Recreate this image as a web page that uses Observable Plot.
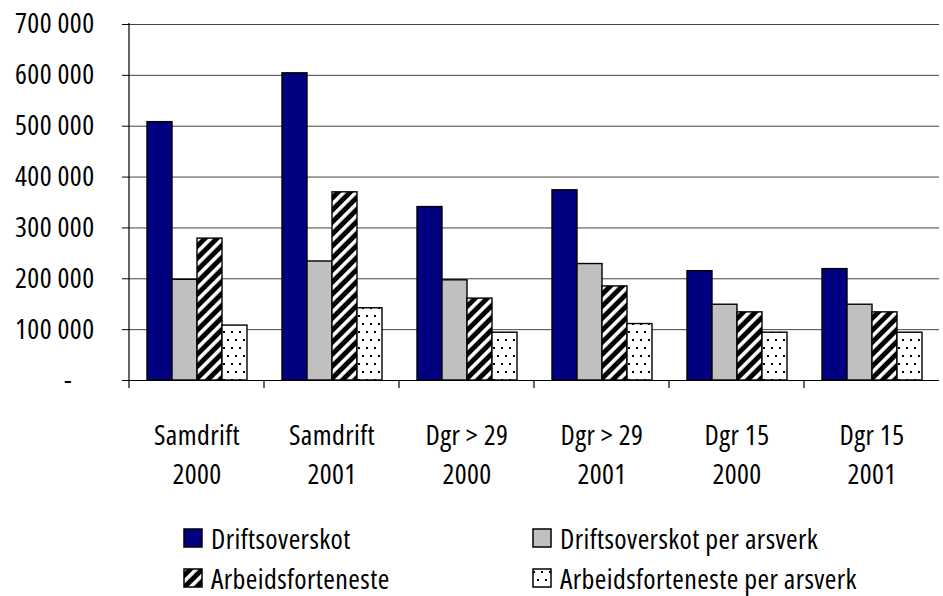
<!DOCTYPE html>
<html>
<head>
<meta charset="utf-8">
<script src="https://cdn.jsdelivr.net/npm/d3@7"></script>
<script src="https://cdn.jsdelivr.net/npm/@observablehq/plot@0.6"></script>
<style>
  html, body { margin: 0; padding: 0; background: #fff; }
  body { width: 943px; height: 596px; overflow: hidden; font-family: "Open Sans", sans-serif; font-stretch: 78%; letter-spacing: 0.4px; }
  #chart svg { display: block; font-stretch: 78%; letter-spacing: 0.4px; }
  #legend { position: relative; margin-top: 18px; margin-left: 183px; display: grid; grid-template-columns: 349px 349px; grid-auto-rows: 40px; font-size: 28px; line-height: 1; color: #000; }
  .item { display: flex; align-items: center; gap: 8px; white-space: nowrap; height: 40px; }
  .item span { line-height: 28px; }
  .item svg { display: block; flex: none; }
</style>
</head>
<body>
<div id="chart"></div>
<div id="legend"></div>
<script>
// ---- data ----
const categories = ["Samdrift\n2000", "Samdrift\n2001", "Dgr > 29\n2000", "Dgr > 29\n2001", "Dgr 15\n2000", "Dgr 15\n2001"];
const seriesNames = ["Driftsoverskot", "Driftsoverskot per arsverk", "Arbeidsforteneste", "Arbeidsforteneste per arsverk"];
const driftsoverskot = [508000, 604000, 341000, 374000, 215000, 219000];
const driftsoverskotPerArsverk = [198000, 234000, 197000, 229000, 149000, 149000];
const arbeidsforteneste = [279000, 370000, 161000, 185000, 134000, 134000];
const arbeidsfortenestePerArsverk = [108000, 142000, 94000, 111000, 94000, 94000];
const yTicks = [0, 100000, 200000, 300000, 400000, 500000, 600000, 700000];
const yTickLabels = ["-\u00a0\u00a0\u00a0\u00a0", "100 000", "200 000", "300 000", "400 000", "500 000", "600 000", "700 000"];
const seriesFills = ["#000080", "#c0c0c0", "url(#hatch)", "url(#dots)"];

const allSeries = [driftsoverskot, driftsoverskotPerArsverk, arbeidsforteneste, arbeidsfortenestePerArsverk];
const data = [];
categories.forEach((c, i) => {
  seriesNames.forEach((s, j) => data.push({category: c, series: s, value: allSeries[j][i]}));
});

const plot = Plot.plot({
  width: 943,
  height: 500,
  marginLeft: 127,
  marginRight: 3,
  marginTop: 24,
  marginBottom: 120,
  style: {fontFamily: `"Open Sans", sans-serif`, fontSize: "28px", color: "#000", background: "#fff"},
  fx: {domain: categories, padding: 0, axis: null},
  x: {domain: seriesNames, paddingInner: 0, paddingOuter: 0.7, axis: null},
  y: {domain: [0, 700000], axis: null, label: null},
  color: {domain: seriesNames, range: seriesFills},
  marks: [
    Plot.gridY(yTicks, {stroke: "#444", strokeOpacity: 1, strokeWidth: 1}),
    Plot.barY(data, {fx: "category", x: "series", y: "value", fill: "series", stroke: "#000", strokeWidth: 1.4}),
    Plot.ruleY([0], {stroke: "#000", strokeWidth: 1.2}),
    Plot.axisY(yTicks, {
      tickSize: 7, tickPadding: 28, fontSize: 28, stroke: "#000", label: null,
      tickFormat: d => yTickLabels[yTicks.indexOf(d)]
    }),
    Plot.text(categories, {
      fx: d => d, text: d => d, frameAnchor: "bottom", lineAnchor: "top",
      dy: 37, lineHeight: 1.39, fontSize: 28, fill: "#000"
    })
  ]
});

document.getElementById("chart").appendChild(plot);

// patterns
const svg = d3.select(plot);
const defs = svg.insert("defs", ":first-child");
const hatch = defs.append("pattern").attr("id", "hatch").attr("patternUnits", "userSpaceOnUse")
  .attr("width", 8.5).attr("height", 8.5).attr("patternTransform", "rotate(45)");
hatch.append("rect").attr("width", 8.5).attr("height", 8.5).attr("fill", "#000");
hatch.append("rect").attr("x", 0).attr("width", 3.6).attr("height", 8.5).attr("fill", "#fff");
const dots = defs.append("pattern").attr("id", "dots").attr("patternUnits", "userSpaceOnUse")
  .attr("width", 8).attr("height", 16);
dots.append("rect").attr("width", 8).attr("height", 16).attr("fill", "#fff");
dots.append("rect").attr("x", 1).attr("y", 3).attr("width", 2).attr("height", 2).attr("fill", "#000");
dots.append("rect").attr("x", 5).attr("y", 11).attr("width", 2).attr("height", 2).attr("fill", "#000");

// axis line and group boundary ticks, using the plot's own scales
const fx = plot.scale("fx");
const y = plot.scale("y");
const y0 = y.apply(0), yTop = y.apply(700000);
const lines = svg.append("g").attr("stroke", "#000").attr("stroke-width", 1.2);
const left = fx.apply(categories[0]);
lines.append("line").attr("x1", left).attr("x2", left).attr("y1", yTop - 1).attr("y2", y0 + 8);
categories.slice(1).forEach(c => {
  const xx = fx.apply(c);
  lines.append("line").attr("x1", xx).attr("x2", xx).attr("y1", y0).attr("y2", y0 + 8);
});

// legend
const legend = d3.select("#legend");
seriesNames.forEach((name, j) => {
  const item = legend.append("div").attr("class", "item");
  const sw = item.append("svg").attr("width", 20).attr("height", 20);
  sw.append("rect").attr("x", 1).attr("y", 1).attr("width", 18).attr("height", 18)
    .attr("fill", seriesFills[j]).attr("stroke", "#000").attr("stroke-width", 1.5);
  item.append("span").text(name);
});
</script>
</body>
</html>
